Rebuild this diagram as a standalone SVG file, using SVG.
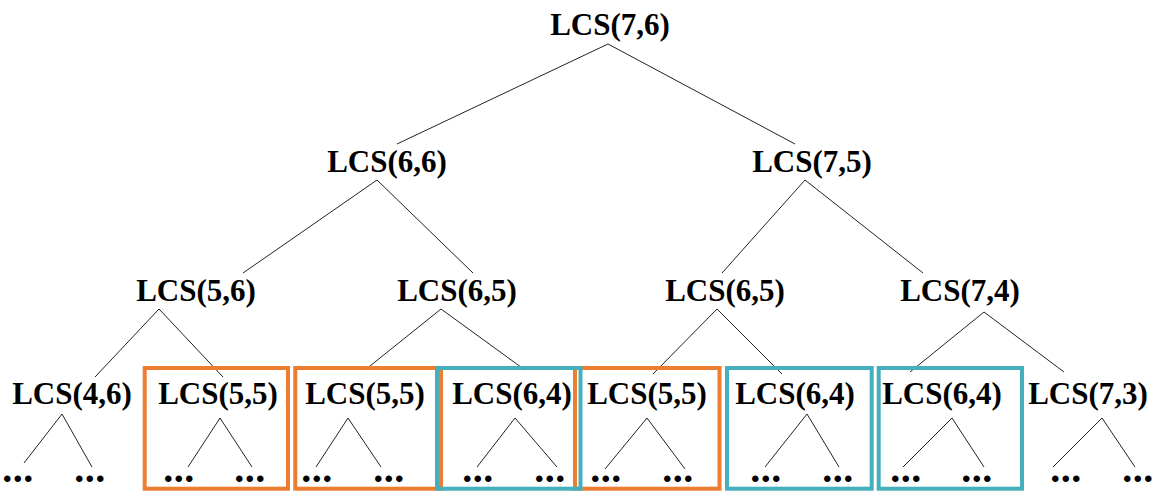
<svg xmlns="http://www.w3.org/2000/svg" width="1159" height="504" viewBox="0 0 1159 504">
<style>
.t{font-family:"Liberation Serif","Times New Roman",serif;font-weight:bold;font-size:31px;fill:#000;text-anchor:middle}
.d{font-family:"Liberation Serif","Times New Roman",serif;font-weight:bold;font-size:40px;letter-spacing:0.5px;fill:#000;text-anchor:middle}
.e{stroke:#222;stroke-width:1;fill:none}
.o{fill:none;stroke:#ED7D31;stroke-width:4}
.c{fill:none;stroke:#45AFBD;stroke-width:4}
</style>
<rect width="1159" height="504" fill="#fff"/>
<g id="connectors">
<path class="e" d="M608,44L397,144M608,44L795,144"/>
<path class="e" d="M377,180L243,273M377,180L473,273"/>
<path class="e" d="M805,180L722,273M805,180L923,273"/>
<path class="e" d="M159,309L95,377M159,309L223,377"/>
<path class="e" d="M441,309L365,370M441,309L525,370"/>
<path class="e" d="M717,309L653,374M717,309L782,374"/>
<path class="e" d="M984,312L910,372M984,312L1064,372"/>
<path class="e" d="M62,414L24,463M62,414L92,467"/>
<path class="e" d="M220,418L188,467M220,418L252,467"/>
<path class="e" d="M348,418L316,467M348,418L381,467"/>
<path class="e" d="M515,418L477,467M515,418L557,467"/>
<path class="e" d="M647,418L605,469M647,418L685,469"/>
<path class="e" d="M807,414L765,467M807,414L839,467"/>
<path class="e" d="M952,418L903,467M952,418L984,467"/>
<path class="e" d="M1102,418L1053,467M1102,418L1135,467"/>
</g>
<g id="highlights">
<rect id="box1" class="o" x="144.7" y="368" width="143.3" height="120.7"/>
<rect id="box2" class="o" x="295.3" y="368" width="145.7" height="120.7"/>
<rect id="box4" class="o" x="575" y="368" width="144.5" height="120.7"/>
<rect id="box3" class="c" x="437" y="368" width="143.5" height="120.7"/>
<rect id="box5" class="c" x="727" y="368" width="144.7" height="120.7"/>
<rect id="box6" class="c" x="878.7" y="368" width="143.3" height="120.7"/>
</g>
<g id="n76"><text class="t" x="610" y="35">LCS(7,6)</text></g>
<g id="n66"><text class="t" x="387" y="172">LCS(6,6)</text></g>
<g id="n75"><text class="t" x="812" y="172">LCS(7,5)</text></g>
<g id="n56"><text class="t" x="196" y="301">LCS(5,6)</text></g>
<g id="n65a"><text class="t" x="457" y="301">LCS(6,5)</text></g>
<g id="n65b"><text class="t" x="725" y="301">LCS(6,5)</text></g>
<g id="n74"><text class="t" x="960" y="301">LCS(7,4)</text></g>
<g id="n46"><text class="t" x="72" y="404">LCS(4,6)</text><text class="d" x="18" y="482">...</text><text class="d" x="90" y="482">...</text></g>
<g id="n55a"><text class="t" x="218" y="404">LCS(5,5)</text><text class="d" x="179" y="482">...</text><text class="d" x="250" y="482">...</text></g>
<g id="n55b"><text class="t" x="365" y="404">LCS(5,5)</text><text class="d" x="317" y="482">...</text><text class="d" x="389" y="482">...</text></g>
<g id="n64a"><text class="t" x="512" y="404">LCS(6,4)</text><text class="d" x="478" y="482">...</text><text class="d" x="550" y="482">...</text></g>
<g id="n55c"><text class="t" x="647" y="404">LCS(5,5)</text><text class="d" x="606" y="482">...</text><text class="d" x="678" y="482">...</text></g>
<g id="n64b"><text class="t" x="795" y="404">LCS(6,4)</text><text class="d" x="766" y="482">...</text><text class="d" x="838" y="482">...</text></g>
<g id="n64c"><text class="t" x="942" y="404">LCS(6,4)</text><text class="d" x="906" y="482">...</text><text class="d" x="977" y="482">...</text></g>
<g id="n73"><text class="t" x="1088" y="404">LCS(7,3)</text><text class="d" x="1066" y="482">...</text><text class="d" x="1138" y="482">...</text></g>
</svg>
